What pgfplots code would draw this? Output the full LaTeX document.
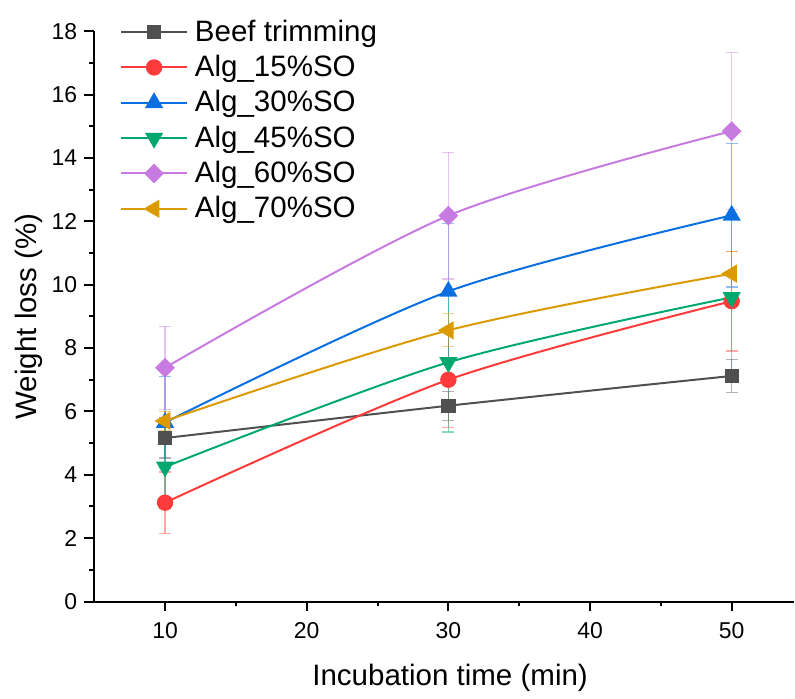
\documentclass[border=0pt]{standalone}
\usepackage{pgfplots}
\usepackage{pgfplotstable}
\pgfplotsset{compat=1.18}
\usepackage{fontspec}
\setmainfont{Liberation Sans}

\definecolor{cbeef}{HTML}{505050}
\definecolor{c15}{HTML}{FF3A3A}
\definecolor{c30}{HTML}{0A6FE0}
\definecolor{c45}{HTML}{00A870}
\definecolor{c60}{HTML}{C77BE0}
\definecolor{c70}{HTML}{DA9A00}

% weight loss (%) vs incubation time, mean and sd
\pgfplotstableread{
t  beef beefe a15  a15e a30   a30e a45  a45e a60   a60e a70   a70e
10 5.16 0.63  3.12 0.97 5.65  1.46 4.25 1.32 7.38  1.31 5.70  0.30
30 6.18 0.46  7.00 1.50 9.79  2.15 7.55 2.20 12.18 2.00 8.56  0.52
50 7.12 0.52  9.48 1.57 12.19 2.26 9.60 2.45 14.85 2.48 10.35 0.70
}\data

\pgfplotsset{
  serie/.style={smooth, line width=1pt, mark size=3.6pt,
    error bars/y dir=both, error bars/y explicit,
    error bars/error bar style={line width=0.6pt, opacity=0.45},
    error bars/error mark options={rotate=90, mark size=3pt, line width=0.6pt, opacity=0.45}},
}

\begin{document}
\begin{tikzpicture}
\begin{axis}[
  scale only axis,
  width=351pt, height=286pt,
  xmin=5, xmax=54.4, ymin=0, ymax=18,
  axis x line=bottom, axis y line=left,
  axis line style={-, line width=1pt},
  xtick={10,20,...,50}, ytick={0,2,...,18},
  minor x tick num=1, minor y tick num=1,
  tick align=outside, major tick length=5pt, minor tick length=2.5pt,
  every tick/.style={line width=1pt, black},
  ticklabel style={font=\fontsize{11.5}{13}\selectfont},
  xticklabel style={yshift=-2pt},
  /pgf/number format/assume math mode=true,
  xlabel={Incubation time (min)}, ylabel={Weight loss (\%)},
  label style={font=\fontsize{14.8}{17}\selectfont},
  xlabel style={yshift=-6pt, xshift=3pt},
  ylabel style={inner ysep=7.8pt}, ylabel shift=-7pt,
  legend style={at={(rel axis cs:0.028,1.0556)}, anchor=north west, draw=none, fill=none,
    inner ysep=8pt, font=\fontsize{14.8}{17}\selectfont, row sep=1.5pt,
    nodes={inner xsep=3.5pt}},
  legend cell align=left,
  legend image code/.code={\draw[mark repeat=2,mark phase=2,#1] plot coordinates {(0pt,0pt) (16.5pt,0pt) (33pt,0pt)};},
]
\addplot[serie, color=cbeef, mark=square*, mark size=3.1pt] table[x=t, y=beef, y error=beefe] {\data};
\addlegendentry{Beef trimming}
\addplot[serie, color=c15, mark=*] table[x=t, y=a15, y error=a15e] {\data};
\addlegendentry{Alg\_15\%SO}
\addplot[serie, color=c30, mark=triangle*, mark size=4.3pt] table[x=t, y=a30, y error=a30e] {\data};
\addlegendentry{Alg\_30\%SO}
\addplot[serie, color=c45, mark=triangle*, mark size=4.3pt, mark options={rotate=180}] table[x=t, y=a45, y error=a45e] {\data};
\addlegendentry{Alg\_45\%SO}
\addplot[serie, color=c60, mark=square*, mark size=3pt, mark options={rotate=45}] table[x=t, y=a60, y error=a60e] {\data};
\addlegendentry{Alg\_60\%SO}
\addplot[serie, color=c70, mark=triangle*, mark size=4.3pt, mark options={rotate=90}] table[x=t, y=a70, y error=a70e] {\data};
\addlegendentry{Alg\_70\%SO}
\end{axis}
\end{tikzpicture}
\end{document}
